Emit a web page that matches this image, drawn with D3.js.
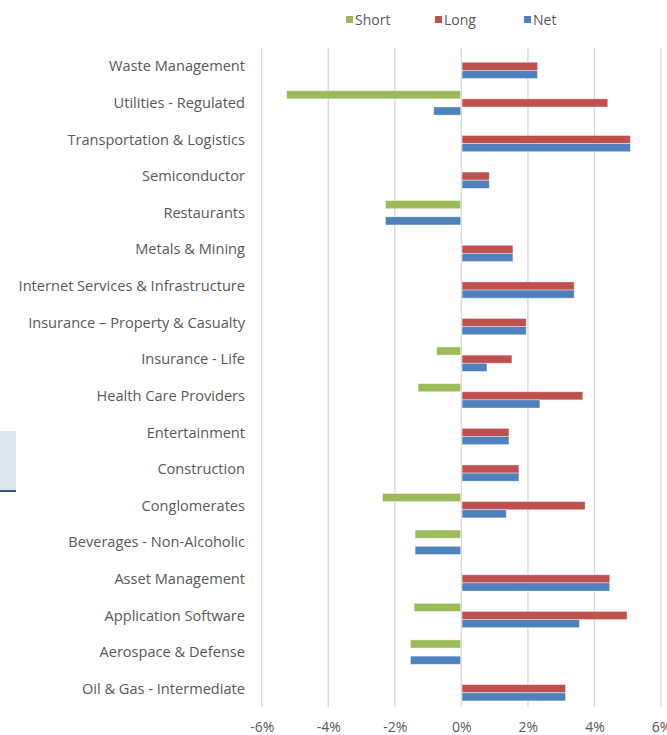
<!DOCTYPE html>
<html lang="en">
<head>
<meta charset="UTF-8">
<title>Short / Long / Net by Industry</title>
<script src="https://d3js.org/d3.v7.min.js"></script>
<style>
  body { margin: 0; background: #fff; font-family: "Open Sans", "Noto Sans", sans-serif; }
  .cat text, .xaxis text, .legend text { fill: #595959; }
</style>
</head>
<body>
<svg id="chart"></svg>
<script>
const width = 667, height = 735;

const categories = [
  "Waste Management", "Utilities - Regulated", "Transportation & Logistics",
  "Semiconductor", "Restaurants", "Metals & Mining",
  "Internet Services & Infrastructure", "Insurance \u2013 Property & Casualty",
  "Insurance - Life", "Health Care Providers", "Entertainment", "Construction",
  "Conglomerates", "Beverages - Non-Alcoholic", "Asset Management",
  "Application Software", "Aerospace & Defense", "Oil & Gas - Intermediate"
];
const shortVals = [0, -5.25, 0, 0, -2.28, 0, 0, 0, -0.74, -1.30, 0, 0, -2.37, -1.39, 0, -1.42, -1.53, 0];
const longVals  = [2.29, 4.40, 5.08, 0.84, 0, 1.55, 3.39, 1.95, 1.52, 3.65, 1.43, 1.73, 3.72, 0, 4.46, 4.98, 0, 3.13];
const netVals   = [2.29, -0.83, 5.08, 0.84, -2.28, 1.55, 3.39, 1.95, 0.77, 2.36, 1.43, 1.73, 1.35, -1.39, 4.46, 3.55, -1.53, 3.13];
const seriesNames = ["Short", "Long", "Net"];
const seriesColors = ["#9BBB59", "#C0504D", "#4F81BD"];
const xTicks = [-6, -4, -2, 0, 2, 4, 6];

const series = [shortVals, longVals, netVals];
const rows = categories.map((c, i) => ({ cat: c, vals: series.map(s => s[i]) }));

const plot = { left: 261.7, right: 661, top: 48, bottom: 707 };

const svg = d3.select("#chart").attr("width", width).attr("height", height);

// stray decoration at left edge
svg.append("rect").attr("x", 0).attr("y", 431).attr("width", 16).attr("height", 59).attr("fill", "#DCE6F0");
svg.append("rect").attr("x", 0).attr("y", 490).attr("width", 16).attr("height", 2).attr("fill", "#3F5473");

const x = d3.scaleLinear().domain([-6, 6]).range([plot.left, plot.right]);
const y = d3.scaleBand().domain(categories).range([plot.top, plot.bottom]).paddingInner(0.3333).paddingOuter(0.1667);
const yInner = d3.scaleBand().domain(seriesNames).range([0, y.bandwidth()]);

// gridlines
svg.append("g")
  .selectAll("line")
  .data(xTicks)
  .join("line")
  .attr("x1", d => x(d)).attr("x2", d => x(d))
  .attr("y1", plot.top).attr("y2", plot.bottom)
  .attr("stroke", "#D9D9D9").attr("stroke-width", 1.3);

// x axis labels
const xAxis = d3.axisBottom(x).tickValues(xTicks).tickSize(0).tickPadding(15).tickFormat(d => d + "%");
svg.append("g")
  .attr("class", "xaxis")
  .attr("transform", `translate(0,${plot.bottom})`)
  .call(xAxis)
  .call(g => g.select(".domain").remove())
  .selectAll("text")
  .style("font-family", "'Open Sans', sans-serif")
  .style("font-size", "14px");

// bars
const groups = svg.append("g").selectAll("g")
  .data(rows)
  .join("g")
  .attr("transform", d => `translate(0,${y(d.cat)})`);

groups.selectAll("rect")
  .data(d => d.vals.map((v, j) => ({ v, j })).filter(e => e.v !== 0))
  .join("rect")
  .attr("x", e => x(Math.min(0, e.v)) + (e.v > 0 ? 0.7 : 0))
  .attr("y", e => yInner(seriesNames[e.j]))
  .attr("width", e => Math.abs(x(e.v) - x(0)) - 0.7)
  .attr("height", yInner.bandwidth())
  .attr("fill", e => seriesColors[e.j])
  .attr("stroke", "#fff").attr("stroke-opacity", 0.5).attr("stroke-width", 0.8);

// category labels
svg.append("g")
  .attr("class", "cat")
  .selectAll("text")
  .data(categories)
  .join("text")
  .attr("x", 245)
  .attr("y", d => y(d) + y.bandwidth() / 2)
  .attr("dy", "0.35em")
  .attr("text-anchor", "end")
  .style("font-size", "14.6px")
  .text(d => d);

// legend
const legendX = [346, 435, 524];
const legend = svg.append("g").attr("class", "legend");
seriesNames.forEach((name, i) => {
  legend.append("rect")
    .attr("x", legendX[i]).attr("y", 16).attr("width", 7).attr("height", 7)
    .attr("fill", seriesColors[i]);
  legend.append("text")
    .attr("x", legendX[i] + 9).attr("y", 20)
    .attr("dy", "0.35em")
    .style("font-size", "14px")
    .text(name);
});
</script>
</body>
</html>
